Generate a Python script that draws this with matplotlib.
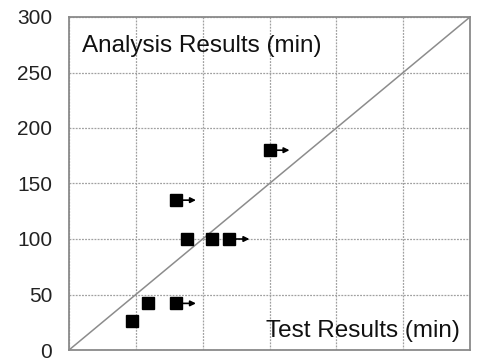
import matplotlib
matplotlib.use("Agg")
import matplotlib.pyplot as plt
import matplotlib.transforms as mtransforms

plt.rcParams['font.family'] = ['Liberation Sans', 'DejaVu Sans']

# data (test results vs analysis results, minutes)
test_min = [47, 59, 80, 80, 88, 107, 120, 150]
analysis_min = [26, 42, 42, 135, 100, 100, 100, 180]
exceeds = [False, False, True, True, False, False, True, True]  # arrow: test result is a lower bound
y_ticks = [0, 50, 100, 150, 200, 250, 300]
x_grid = [0, 50, 100, 150, 200, 250, 300]
lim = [0, 300]

fig = plt.figure(figsize=(4.94, 3.62), dpi=100)
ax = fig.add_axes([69/494, 12/362, 401/494, 333/362])
ax.set_xlim(lim)
ax.set_ylim(lim)

ax.set_xticks(x_grid)
ax.set_yticks(y_ticks)
ax.set_xticklabels([])
ax.tick_params(axis='both', length=0)
ax.tick_params(axis='y', labelsize=15, pad=12, colors='#222222')
ax.grid(True, color='#a0a0a0', linestyle=(0, (1.5, 1)), linewidth=0.9)
ax.set_axisbelow(True)
for s in ax.spines.values():
    s.set_color('#8a8a8a')
    s.set_linewidth(1.3)

# y = x reference line
ax.plot(lim, lim, color='#8c8c8c', linewidth=1.1, zorder=2)

ax.plot(test_min, analysis_min, linestyle='none', marker='s', markersize=8.6,
        color='black', zorder=3)

for x, y, e in zip(test_min, analysis_min, exceeds):
    if e:
        start = mtransforms.offset_copy(ax.transData, fig=fig, x=6, y=0, units='dots')
        tip = mtransforms.offset_copy(ax.transData, fig=fig, x=20, y=0, units='dots')
        ax.annotate('', xy=(x, y), xycoords=tip, xytext=(x, y), textcoords=start,
                    arrowprops=dict(arrowstyle='-|>', color='black', lw=1.2,
                                    mutation_scale=8, shrinkA=0, shrinkB=0),
                    zorder=4)

ax.text(13/401, 0.895, 'Analysis Results (min)', transform=ax.transAxes,
        fontsize=17.5, color='#111111', va='baseline', ha='left')
ax.text(391/401, 13/333, 'Test Results (min)', transform=ax.transAxes,
        fontsize=17.5, color='#111111', va='baseline', ha='right')

fig.savefig('out.png', dpi=100)
